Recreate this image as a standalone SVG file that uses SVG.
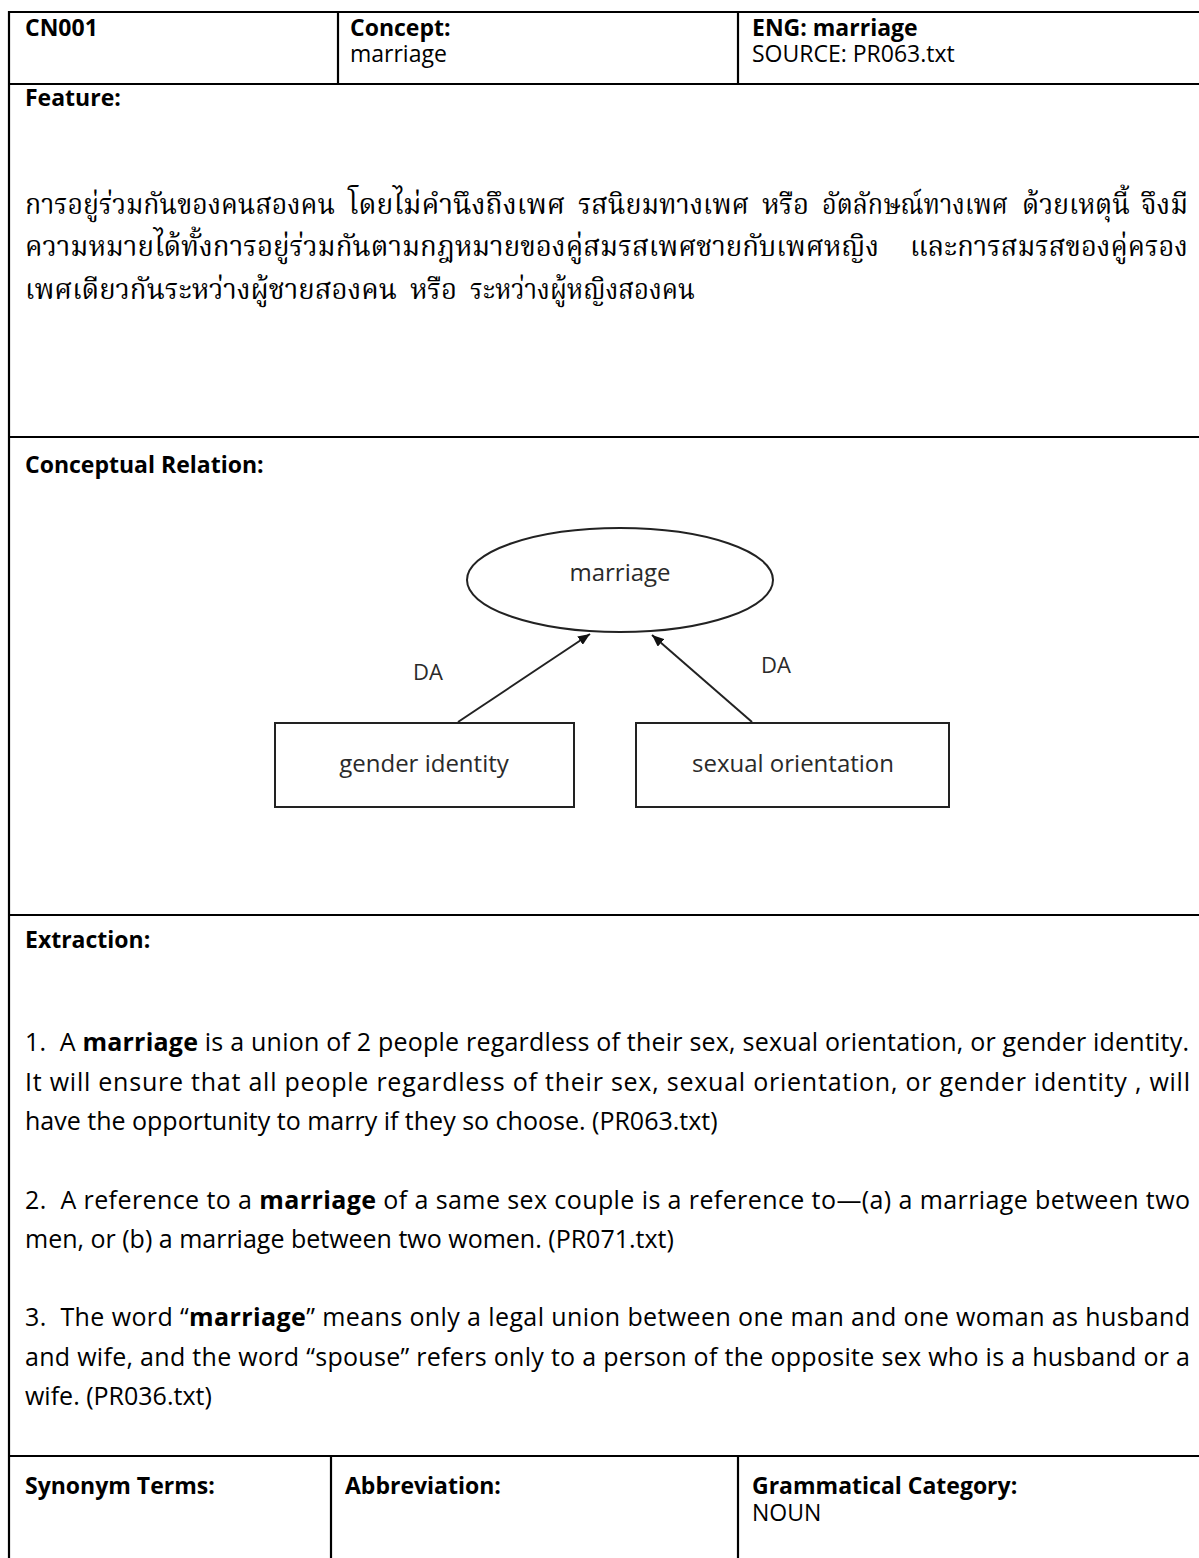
<svg xmlns="http://www.w3.org/2000/svg" width="1199" height="1558" viewBox="0 0 1199 1558">
  <style>
    .rule { stroke: #000; stroke-width: 2.2; fill: none; }
    .lbl { font-family: "Open Sans", "Liberation Sans", sans-serif; font-size: 23px; font-weight: bold; fill: #000; }
    .val { font-family: "Open Sans", "Liberation Sans", sans-serif; font-size: 23px; fill: #000; }
    .body { font-family: "Open Sans", "Liberation Sans", sans-serif; font-size: 25px; fill: #000; }
    .body tspan.b { font-weight: bold; }
    .thai { font-family: "Noto Serif Thai", "Noto Sans Thai", "Garuda", "Loma", "Norasi", "Tlwg Typo", "Noto Sans", serif; font-size: 28px; fill: #000; }
    .node { fill: #fff; stroke: #222; stroke-width: 2; }
    .ntext { font-family: "Open Sans", "Liberation Sans", sans-serif; font-size: 24px; fill: #2a2a2a; text-anchor: middle; }
    .edge { stroke: #222; stroke-width: 2; fill: none; marker-end: url(#head); }
    .elabel { font-family: "Open Sans", "Liberation Sans", sans-serif; font-size: 22px; fill: #2a2a2a; }
  </style>
  <defs>
    <marker id="head" viewBox="0 0 12 10" refX="12" refY="5" markerWidth="12" markerHeight="10" markerUnits="userSpaceOnUse" orient="auto">
      <path d="M0,0 L12,5 L0,10 Z" fill="#111"/>
    </marker>
  </defs>

  <rect width="1199" height="1558" fill="#fff"/>

  <!-- table grid -->
  <g id="table-grid">
    <line class="rule" x1="9" y1="12" x2="1199" y2="12"/>
    <line class="rule" x1="9" y1="84" x2="1199" y2="84"/>
    <line class="rule" x1="338" y1="12" x2="338" y2="84"/>
    <line class="rule" x1="738" y1="12" x2="738" y2="84"/>
    <line class="rule" x1="9" y1="437" x2="1199" y2="437"/>
    <line class="rule" x1="9" y1="915" x2="1199" y2="915"/>
    <line class="rule" x1="9" y1="1456" x2="1199" y2="1456"/>
    <line class="rule" x1="331" y1="1456" x2="331" y2="1558"/>
    <line class="rule" x1="738" y1="1456" x2="738" y2="1558"/>
    <line class="rule" x1="9" y1="11" x2="9" y2="1558"/>
  </g>

  <!-- header row -->
  <g id="header">
    <text class="lbl" x="25" y="36">CN001</text>
    <text class="lbl" x="350" y="36">Concept:</text>
    <text class="val" x="350" y="62">marriage</text>
    <text class="lbl" x="752" y="36">ENG: marriage</text>
    <text class="val" x="752" y="62">SOURCE: PR063.txt</text>
  </g>

  <!-- feature description -->
  <g id="feature">
    <text class="lbl" x="25" y="106">Feature:</text>
    <g class="thai">
      <text x="25" y="214" textLength="310" lengthAdjust="spacingAndGlyphs">การอยู่ร่วมกันของคนสองคน</text>
      <text x="348" y="214" textLength="217" lengthAdjust="spacingAndGlyphs">โดยไม่คำนึงถึงเพศ</text>
      <text x="578" y="214" textLength="171" lengthAdjust="spacingAndGlyphs">รสนิยมทางเพศ</text>
      <text x="762" y="214" textLength="47" lengthAdjust="spacingAndGlyphs">หรือ</text>
      <text x="822" y="214" textLength="186" lengthAdjust="spacingAndGlyphs">อัตลักษณ์ทางเพศ</text>
      <text x="1022" y="214" textLength="108" lengthAdjust="spacingAndGlyphs">ด้วยเหตุนี้</text>
      <text x="1141" y="214" textLength="47" lengthAdjust="spacingAndGlyphs">จึงมี</text>

      <text x="25" y="256" textLength="854" lengthAdjust="spacingAndGlyphs">ความหมายได้ทั้งการอยู่ร่วมกันตามกฎหมายของคู่สมรสเพศชายกับเพศหญิง</text>
      <text x="910" y="256" textLength="278" lengthAdjust="spacingAndGlyphs">และการสมรสของคู่ครอง</text>

      <text x="25" y="299" textLength="372" lengthAdjust="spacingAndGlyphs">เพศเดียวกันระหว่างผู้ชายสองคน</text>
      <text x="410" y="299" textLength="47" lengthAdjust="spacingAndGlyphs">หรือ</text>
      <text x="470" y="299" textLength="225" lengthAdjust="spacingAndGlyphs">ระหว่างผู้หญิงสองคน</text>
    </g>
  </g>

  <g id="relation-heading">
    <text class="lbl" x="25" y="473">Conceptual Relation:</text>
  </g>

  <!-- concept graph -->
  <g id="node-marriage">
    <ellipse class="node" cx="620" cy="580" rx="153" ry="52"/>
    <text class="ntext" x="620" y="581">marriage</text>
  </g>
  <g id="node-gender-identity">
    <rect class="node" x="275" y="723" width="299" height="84"/>
    <text class="ntext" x="424" y="772">gender identity</text>
  </g>
  <g id="node-sexual-orientation">
    <rect class="node" x="636" y="723" width="313" height="84"/>
    <text class="ntext" x="793" y="772">sexual orientation</text>
  </g>
  <g id="connectors">
    <line class="edge" x1="458" y1="722" x2="590" y2="634"/>
    <line class="edge" x1="752" y1="722" x2="652" y2="635"/>
    <text class="elabel" x="413" y="680">DA</text>
    <text class="elabel" x="761" y="673">DA</text>
  </g>

  <!-- extraction examples -->
  <g id="extraction">
    <text class="lbl" x="25" y="948">Extraction:</text>
    <g class="body">
      <text x="25" y="1051" textLength="1164" lengthAdjust="spacing">1.&#160; A <tspan class="b">marriage</tspan> is a union of 2 people regardless of their sex, sexual orientation, or gender identity.</text>
      <text x="25" y="1091" textLength="1165" lengthAdjust="spacing">It will ensure that all people regardless of their sex, sexual orientation, or gender identity , will</text>
      <text x="25" y="1130">have the opportunity to marry if they so choose. (PR063.txt)</text>

      <text x="25" y="1209" textLength="1165" lengthAdjust="spacing">2.&#160; A reference to a <tspan class="b">marriage</tspan> of a same sex couple is a reference to—(a) a marriage between two</text>
      <text x="25" y="1248">men, or (b) a marriage between two women. (PR071.txt)</text>

      <text x="25" y="1326" textLength="1165" lengthAdjust="spacing">3.&#160; The word “<tspan class="b">marriage</tspan>” means only a legal union between one man and one woman as husband</text>
      <text x="25" y="1366" textLength="1165" lengthAdjust="spacing">and wife, and the word “spouse” refers only to a person of the opposite sex who is a husband or a</text>
      <text x="25" y="1405">wife. (PR036.txt)</text>
    </g>
  </g>

  <!-- footer row -->
  <g id="footer">
    <text class="lbl" x="25" y="1494">Synonym Terms:</text>
    <text class="lbl" x="345" y="1494">Abbreviation:</text>
    <text class="lbl" x="752" y="1494">Grammatical Category:</text>
    <text class="val" x="752" y="1521">NOUN</text>
  </g>
</svg>
